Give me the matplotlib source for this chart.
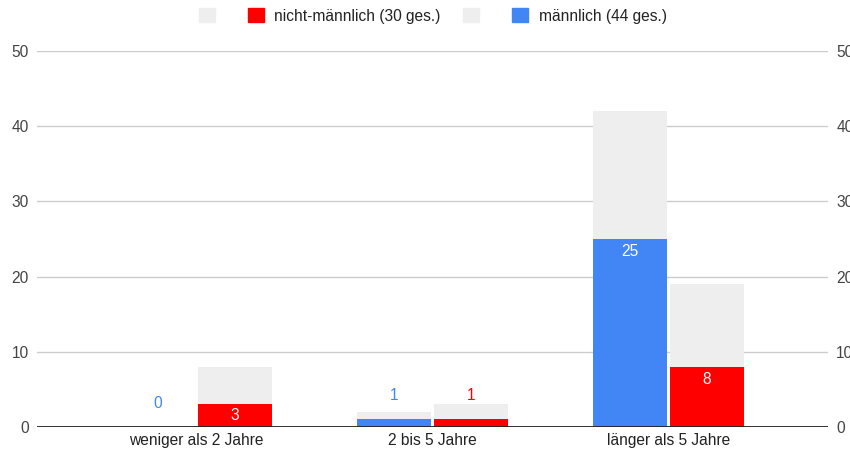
import matplotlib
matplotlib.use("Agg")
import matplotlib.pyplot as plt
from matplotlib.patches import Patch
import numpy as np

plt.rcParams['font.family'] = ['Liberation Sans', 'DejaVu Sans']

categories = ["weniger als 2 Jahre", "2 bis 5 Jahre", "länger als 5 Jahre"]
male = [0, 1, 25]
male_total = [0, 2, 42]
nonmale = [3, 1, 8]
nonmale_total = [8, 3, 19]
yticks = [0, 10, 20, 30, 40, 50]

BLUE = "#4285F4"
RED = "#FF0000"
GREY = "#EEEEEE"
FS = 11.2

fig = plt.figure(figsize=(8.5, 4.5), dpi=100)
ax = fig.add_axes([37/850, 1-427/450, (828-37)/850, (427-51)/450])

x = np.arange(len(categories))
w = 0.313
off = 0.163

def draw(xpos, vals, totals, color):
    ax.bar(xpos, totals, width=w, color=GREY, zorder=2)
    ax.bar(xpos, vals, width=w, color=color, zorder=3)

draw(x - off, male, male_total, BLUE)
draw(x + off, nonmale, nonmale_total, RED)

px_per_unit = (427-51) / 50.0
for xs, vals, color in [(x - off, male, BLUE), (x + off, nonmale, RED)]:
    for xi, v in zip(xs, vals):
        hpx = v * px_per_unit
        if hpx > 18:
            ypx = max(hpx / 2, hpx - 13)
            ax.text(xi, ypx / px_per_unit, str(v), ha='center', va='center',
                    color='white', fontsize=FS, zorder=5)
        else:
            ax.text(xi, (hpx + 24) / px_per_unit, str(v), ha='center', va='center',
                    color=color, fontsize=FS, zorder=5)

ax.set_xlim(1 - 1.676, 1 + 1.676)
ax.set_ylim(0, 50)
ax.set_yticks(yticks)
ax.set_xticks(x)
ax.set_xticklabels(categories, fontsize=FS, color='#222222')
ax.tick_params(axis='x', length=0, pad=4)
ax.tick_params(axis='y', length=0, pad=6, labelsize=FS, labelcolor='#444444')
ax.grid(axis='y', color='#CCCCCC', linewidth=1, zorder=0)
for s in ax.spines.values():
    s.set_visible(False)
ax.axhline(0, color='#222222', linewidth=1.3, zorder=4)

ax2 = ax.twinx()
ax2.set_ylim(0, 50)
ax2.set_yticks(yticks)
ax2.tick_params(axis='y', length=0, pad=6, labelsize=FS, labelcolor='#444444')
for s in ax2.spines.values():
    s.set_visible(False)

handles = [Patch(color=GREY), Patch(color=RED), Patch(color=GREY), Patch(color=BLUE)]
labels = ["", "nicht-männlich (30 ges.)", "", "männlich (44 ges.)"]
fig.legend(handles, labels, loc='center', bbox_to_anchor=(0.509, 1-16/450), ncol=4,
           frameon=False, fontsize=FS, handlelength=1.03, handleheight=1.0,
           columnspacing=1.41, handletextpad=0.7, labelcolor='#222222',
           borderpad=0.2)

fig.savefig("out.png", dpi=100)
